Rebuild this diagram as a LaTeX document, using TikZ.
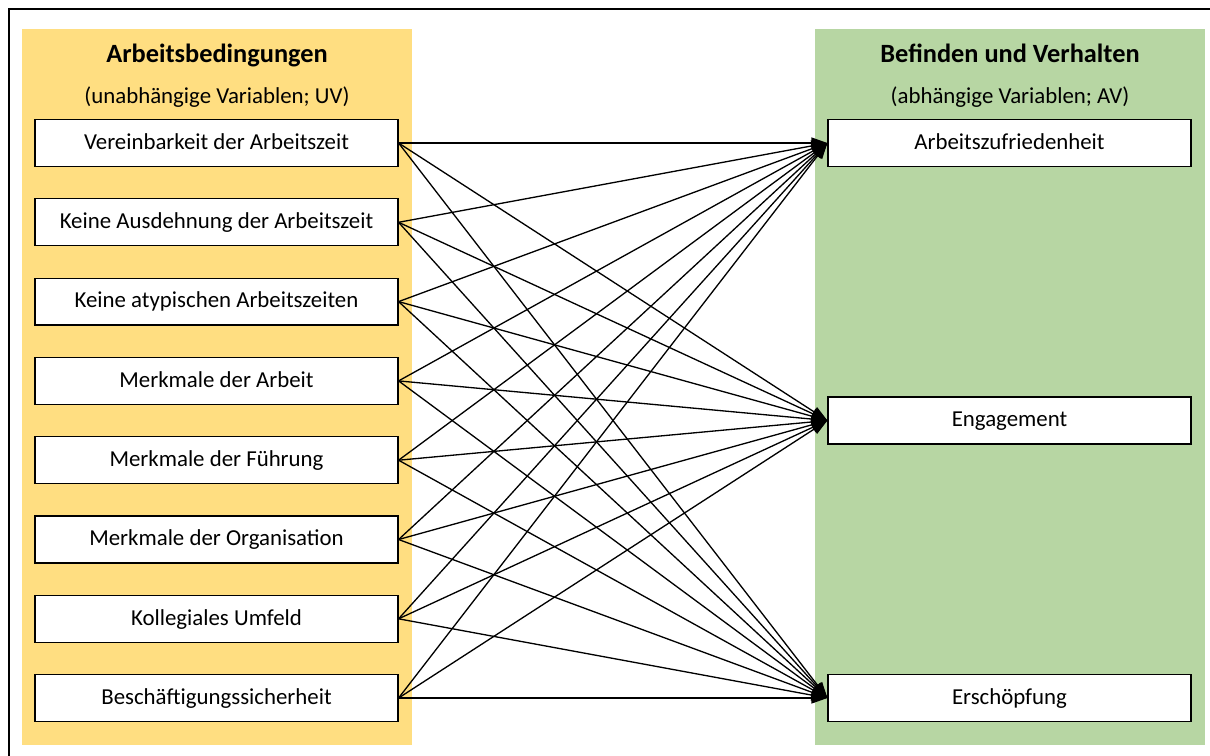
\documentclass[tikz,border=0pt]{standalone}
\usepackage{fontspec}
\setmainfont{Carlito}
\usetikzlibrary{arrows.meta}

\definecolor{uvgelb}{HTML}{FFDE81}
\definecolor{avgruen}{HTML}{B7D6A3}

\tikzset{
    varbox/.style={draw, fill=white, line width=0.7pt, minimum width=7.26cm, minimum height=0.94cm,
        inner sep=0pt, text height=1.5ex, text depth=0pt, font=\fontsize{13}{15}\selectfont},
    titel/.style={text height=1.5ex, text depth=0pt, font=\bfseries\fontsize{15}{18}\selectfont},
    untertitel/.style={text height=1.5ex, text depth=0pt, font=\fontsize{13}{15}\selectfont},
    wirkung/.style={line width=0.75pt, -{Triangle[length=0.32cm, width=0.22cm]}}
}

\begin{document}
\begin{tikzpicture}[x=0.02cm, y=-0.02cm]
        \useasboundingbox (0, 0) rectangle (1210, 755);
        \clip (0, 0) rectangle (1210, 755);
        \draw[line width=0.6pt] (9, 9) rectangle (1230, 780);

        \fill[uvgelb] (22, 29) rectangle (412, 745);
        \fill[avgruen] (815, 29) rectangle (1205, 745);

        \node[titel] (uvtitel) at (217, 56) {Arbeitsbedingungen};
        \node[untertitel] (uvsub) at (217, 97) {(unabhängige Variablen; UV)};
        \node[titel] (avtitel) at (1010, 56) {Befinden und Verhalten};
        \node[untertitel] (avsub) at (1010, 97) {(abhängige Variablen; AV)};

        \node[varbox] (uv1) at (216.5, 143) {Vereinbarkeit der Arbeitszeit};
        \node[varbox] (uv2) at (216.5, 222.3) {Keine Ausdehnung der Arbeitszeit};
        \node[varbox] (uv3) at (216.5, 301.6) {Keine atypischen Arbeitszeiten};
        \node[varbox] (uv4) at (216.5, 380.9) {Merkmale der Arbeit};
        \node[varbox] (uv5) at (216.5, 460.2) {Merkmale der Führung};
        \node[varbox] (uv6) at (216.5, 539.5) {Merkmale der Organisation};
        \node[varbox] (uv7) at (216.5, 618.8) {Kollegiales Umfeld};
        \node[varbox] (uv8) at (216.5, 698) {Beschäftigungssicherheit};

        \node[varbox] (av1) at (1009.5, 143) {Arbeitszufriedenheit};
        \node[varbox] (av2) at (1009.5, 420.5) {Engagement};
        \node[varbox] (av3) at (1009.5, 698) {Erschöpfung};

        % jede UV wirkt auf jede AV
        \foreach \u in {1,...,8}
            \foreach \a in {1,2,3}
                \draw[wirkung] (uv\u.east) -- (av\a.west);
    \end{tikzpicture}
\end{document}
